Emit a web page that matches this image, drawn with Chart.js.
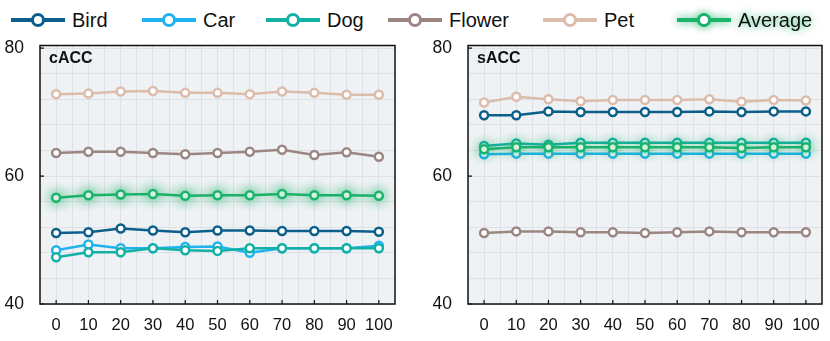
<!DOCTYPE html>
<html>
<head>
<meta charset="utf-8">
<script src="https://cdn.jsdelivr.net/npm/chart.js@4/dist/chart.umd.min.js"></script>
<style>
	body { margin: 0; background: #fff; width: 830px; height: 341px; overflow: hidden; position: relative; font-family: "Liberation Sans", Arial, sans-serif; }
	.panel { position: absolute; top: 30px; width: 415px; height: 311px; }
	.legend-item { position: absolute; top: 8px; height: 24px; }
	.legend-item .seg { position: absolute; left: 0; top: 10px; width: 54px; height: 4px; }
	.legend-item .dot { position: absolute; left: 20px; top: 5px; width: 8px; height: 8px; border-radius: 50%; background: #fff; border: 3px solid; }
	.legend-item .txt { position: absolute; left: 61px; top: 0; font-size: 20px; line-height: 24px; color: #111; white-space: nowrap; }
	.legend-item.glow { filter: drop-shadow(0 0 4px rgba(27, 179, 106, 0.9)); }
</style>
</head>
<body>
<div id="legend"></div>
<div class="panel" style="left:0"><canvas id="chart-cacc" width="415" height="311"></canvas></div>
<div class="panel" style="left:415px"><canvas id="chart-sacc" width="415" height="311"></canvas></div>
<script>
// x values shared by both panels
const xValues = [0, 10, 20, 30, 40, 50, 60, 70, 80, 90, 100];
const xGrid = [0, 5, 10, 15, 20, 25, 30, 35, 40, 45, 50, 55, 60, 65, 70, 75, 80, 85, 90, 95, 100];
const xLabels = [0, 10, 20, 30, 40, 50, 60, 70, 80, 90, 100];
const yGrid = [40, 44, 48, 52, 56, 60, 64, 68, 72, 76, 80];
const yLabels = [40, 60, 80];

const seriesNames = ['Bird', 'Car', 'Dog', 'Flower', 'Pet', 'Average'];
const seriesColors = ['#0b5f8a', '#1fb2ee', '#13b0a5', '#9b8682', '#dcbcaa', '#1bb36a'];

// cACC panel
const birdC = [51.1, 51.2, 51.8, 51.5, 51.2, 51.5, 51.5, 51.4, 51.4, 51.4, 51.3];
const carC = [48.4, 49.3, 48.7, 48.7, 48.9, 49.0, 48.0, 48.7, 48.7, 48.7, 49.1];
const dogC = [47.3, 48.1, 48.1, 48.7, 48.4, 48.3, 48.7, 48.7, 48.7, 48.7, 48.7];
const flowerC = [63.6, 63.8, 63.8, 63.6, 63.4, 63.6, 63.8, 64.1, 63.3, 63.7, 63.0];
const petC = [72.8, 72.9, 73.2, 73.3, 73.0, 73.0, 72.8, 73.2, 73.0, 72.7, 72.7];
const avgC = [56.6, 57.0, 57.1, 57.2, 56.9, 57.0, 57.0, 57.2, 57.0, 57.0, 56.9];

// sACC panel
const birdS = [69.5, 69.5, 70.1, 70.0, 70.0, 70.0, 70.0, 70.1, 70.0, 70.1, 70.1];
const carS = [63.4, 63.5, 63.5, 63.5, 63.5, 63.5, 63.5, 63.5, 63.5, 63.5, 63.5];
const dogS = [64.7, 65.1, 64.9, 65.2, 65.2, 65.2, 65.2, 65.2, 65.2, 65.2, 65.2];
const flowerS = [51.1, 51.35, 51.35, 51.2, 51.2, 51.1, 51.2, 51.35, 51.2, 51.2, 51.2];
const petS = [71.5, 72.4, 72.0, 71.7, 71.9, 71.9, 71.9, 72.0, 71.6, 71.9, 71.8];
const avgS = [64.2, 64.5, 64.5, 64.5, 64.5, 64.5, 64.5, 64.5, 64.4, 64.5, 64.5];

;(function () {
	const FONT = '"Liberation Sans", Arial, sans-serif'
	const legendLeft = [11, 142, 266, 388, 543, 677]

	// html legend
	const legend = document.getElementById('legend')
	seriesNames.forEach(function (name, i) {
		const item = document.createElement('div')
		item.className = 'legend-item' + (name === 'Average' ? ' glow' : '')
		item.style.left = legendLeft[i] + 'px'
		item.innerHTML = '<span class="seg" style="background:' + seriesColors[i] + '"></span>' +
			'<span class="dot" style="border-color:' + seriesColors[i] + '"></span>' +
			'<span class="txt">' + name + '</span>'
		legend.appendChild(item)
	})

	const panelPlugin = {
		id: 'panelPlugin',
		beforeDraw(chart) {
			const a = chart.chartArea, ctx = chart.ctx
			ctx.save()
			ctx.fillStyle = '#eff2f5'
			ctx.fillRect(a.left, a.top, a.right - a.left, a.bottom - a.top)
			ctx.restore()
		},
		beforeDatasetDraw(chart, args) {
			if (chart.data.datasets[args.index].label === 'Average') {
				chart.ctx.save()
				chart.ctx.shadowColor = 'rgba(27, 179, 106, 0.85)'
				chart.ctx.shadowBlur = 12
			}
		},
		afterDatasetDraw(chart, args) {
			if (chart.data.datasets[args.index].label === 'Average') chart.ctx.restore()
		},
		afterDraw(chart) {
			const a = chart.chartArea, ctx = chart.ctx
			const xs = chart.scales.x, ys = chart.scales.y
			ctx.save()
			ctx.strokeStyle = '#111'
			ctx.lineWidth = 1.5
			ctx.strokeRect(a.left, a.top, a.right - a.left, a.bottom - a.top)
			ctx.lineWidth = 1.2
			ctx.beginPath()
			xLabels.forEach(function (v) {
				const px = xs.getPixelForValue(v)
				ctx.moveTo(px, a.bottom)
				ctx.lineTo(px, a.bottom - 4)
			})
			yLabels.forEach(function (v) {
				const py = ys.getPixelForValue(v)
				ctx.moveTo(a.left, py)
				ctx.lineTo(a.left + 4, py)
			})
			ctx.stroke()
			ctx.fillStyle = '#111'
			ctx.font = 'bold 16px ' + FONT
			ctx.textBaseline = 'middle'
			ctx.fillText(chart.options.plugins.panelPlugin.title, a.left + 9, a.top + 13)
			ctx.restore()
		}
	}

	function makeChart(canvasId, title, seriesData, yAxisWidth, rightPad) {
		const datasets = seriesData.map(function (vals, i) {
			return {
				label: seriesNames[i],
				data: vals.map(function (v, j) { return { x: xValues[j], y: v } }),
				borderColor: seriesColors[i],
				backgroundColor: '#fff',
				pointBackgroundColor: '#fff',
				pointBorderColor: seriesColors[i],
				borderWidth: 2.5,
				pointRadius: 4,
				pointBorderWidth: 2.5,
				order: -i,
			}
		})
		return new Chart(document.getElementById(canvasId), {
			type: 'line',
			data: { datasets: datasets },
			plugins: [panelPlugin],
			options: {
				responsive: false,
				animation: false,
				devicePixelRatio: 1,
				layout: { padding: { top: 15.5, right: rightPad, left: 0, bottom: 0 } },
				plugins: {
					legend: { display: false },
					tooltip: { enabled: false },
					panelPlugin: { title: title },
				},
				scales: {
					x: {
						type: 'linear',
						min: -5,
						max: 105,
						afterBuildTicks(scale) { scale.ticks = xGrid.map(function (v) { return { value: v } }) },
						afterFit(scale) {
							scale.height = 37
							scale.paddingLeft = 0
							scale.paddingRight = 0
						},
						grid: { color: '#dde1e5', lineWidth: 1, drawTicks: false },
						border: { display: false },
						ticks: {
							autoSkip: false,
							maxRotation: 0,
							padding: 12,
							color: '#111',
							font: { family: FONT, size: 16.5 },
							callback: function (v) { return xLabels.indexOf(v) >= 0 ? String(v) : '' },
						},
					},
					y: {
						min: 40,
						max: 80.4,
						afterBuildTicks(scale) { scale.ticks = yGrid.map(function (v) { return { value: v } }) },
						afterFit(scale) {
							scale.width = yAxisWidth
							scale.paddingTop = 0
							scale.paddingBottom = 0
						},
						grid: { color: '#dde1e5', lineWidth: 1, drawTicks: false },
						border: { display: false },
						ticks: {
							padding: 16,
							color: '#111',
							font: { family: FONT, size: 17.5 },
							callback: function (v) { return yLabels.indexOf(v) >= 0 ? String(v) : '' },
						},
					},
				},
			},
		})
	}

	makeChart('chart-cacc', 'cACC', [birdC, carC, dogC, flowerC, petC, avgC], 40, 20)
	makeChart('chart-sacc', 'sACC', [birdS, carS, dogS, flowerS, petS, avgS], 53, 8)
})()
</script>
</body>
</html>
